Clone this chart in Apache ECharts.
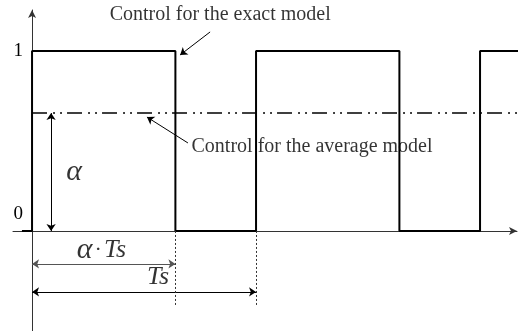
<!DOCTYPE html>
<html>
<head>
<meta charset="utf-8">
<script src="https://cdn.jsdelivr.net/npm/echarts@6/dist/echarts.min.js"></script>
<style>
  html, body { margin: 0; padding: 0; background: #fff; }
  #chart { width: 518px; height: 331px; }
</style>
</head>
<body>
<div id="chart"></div>
<script>
// 时间以 Ts 为单位, 电平 0..1
const tickValues = [0, 1]
const edgeTimes = [-0.045, 0, 0.64, 1, 1.64, 2, 2.2]
const edgeLevels = [0, 1, 0, 1, 0, 1, 1]
const duty = 0.64
const period = 1
const avgLevel = 0.655

// 注释文字和箭头
const noteTexts = ['Control for the exact model', 'Control for the average model']
const noteAt = [[0.84, 1.2], [1.25, 0.467]]
const noteFrom = [[0.795, 1.106], [0.696, 0.489]]
const noteTo = [[0.661, 0.978], [0.513, 0.633]]

// 尺寸标注
const mathTexts = ['{a|α}', '{a|α}{n|·}{i|Ts}', '{i|Ts}']
const mathAt = [[0.1875, 0.328], [0.31, -0.106], [0.5625, -0.258]]
const alphaArrowX = 0.085
const dutyArrowY = -0.183
const periodArrowY = -0.339
const dropTo = -0.42

const serif = "'Liberation Serif', 'Times New Roman', serif"

const chart = echarts.init(document.getElementById('chart'))

const arrowLines = [
  [{ coord: [alphaArrowX, 0] }, { coord: [alphaArrowX, avgLevel] }],
  [{ coord: [0, dutyArrowY] }, { coord: [duty, dutyArrowY], lineStyle: { color: '#555' } }],
  [{ coord: [0, periodArrowY] }, { coord: [period, periodArrowY] }]
]
const dotLines = [duty, period].map(x => [
  { coord: [x, 0], symbol: 'none' },
  { coord: [x, dropTo], symbol: 'none', lineStyle: { type: [2, 2], color: '#333', width: 1 } }
])
const noteLines = noteFrom.map((f, i) => [
  { coord: f, symbol: 'none' },
  { coord: noteTo[i], symbol: 'arrow' }
])

chart.setOption({
  animation: false,
  grid: { left: 13, right: 1, top: 10, bottom: 0, outerBoundsMode: 'none', containLabel: false },
  xAxis: {
    type: 'value', min: -0.085, max: 2.165,
    axisLine: { onZero: true, symbol: ['none', 'arrow'], symbolSize: [6, 8], lineStyle: { color: '#333', width: 1 } },
    axisTick: { show: false }, axisLabel: { show: false }, splitLine: { show: false }
  },
  yAxis: {
    type: 'value', min: -0.556, max: 1.228,
    axisLine: { onZero: true, symbol: ['none', 'arrow'], symbolSize: [6, 8], lineStyle: { color: '#333', width: 1 } },
    axisTick: { show: false }, splitLine: { show: false },
    axisLabel: {
      customValues: tickValues,
      margin: -10,
      formatter: v => v === 0 ? '{z|0}' : '{o|1}',
      rich: {
        o: { fontFamily: serif, fontSize: 19, color: '#000' },
        z: { fontFamily: serif, fontSize: 19, color: '#000', padding: [0, 0, 34, 0] }
      }
    }
  },
  series: [
    {
      name: 'exact', type: 'line', step: 'end', symbol: 'none',
      data: edgeTimes.map((t, i) => [t, edgeLevels[i]]),
      lineStyle: { color: '#000', width: 2 }
    },
    {
      name: 'average', type: 'line', symbol: 'none',
      data: [[0, avgLevel], [2.2, avgLevel]],
      lineStyle: { color: '#000', width: 1.5, type: [15, 6, 2, 5, 2, 5] }
    },
    {
      name: 'notes', type: 'scatter', symbolSize: 0, silent: true,
      data: noteTexts.map((t, i) => ({ value: noteAt[i], text: t }))
        .concat(mathTexts.map((t, i) => ({ value: mathAt[i], text: t }))),
      label: {
        show: true, position: 'inside', color: '#000',
        fontFamily: serif, fontSize: 20,
        formatter: p => p.data.text,
        rich: {
          a: { fontFamily: serif, fontStyle: 'italic', fontSize: 30, color: '#000' },
          i: { fontFamily: serif, fontStyle: 'italic', fontSize: 26, color: '#000' },
          n: { fontFamily: serif, fontSize: 22, color: '#000', padding: [0, 2, 0, 2] }
        }
      },
      markLine: {
        silent: true, symbol: ['arrow', 'arrow'], symbolSize: 7,
        label: { show: false },
        lineStyle: { color: '#000', width: 1, type: 'solid' },
        data: arrowLines.concat(dotLines, noteLines)
      }
    }
  ]
})
</script>
</body>
</html>
